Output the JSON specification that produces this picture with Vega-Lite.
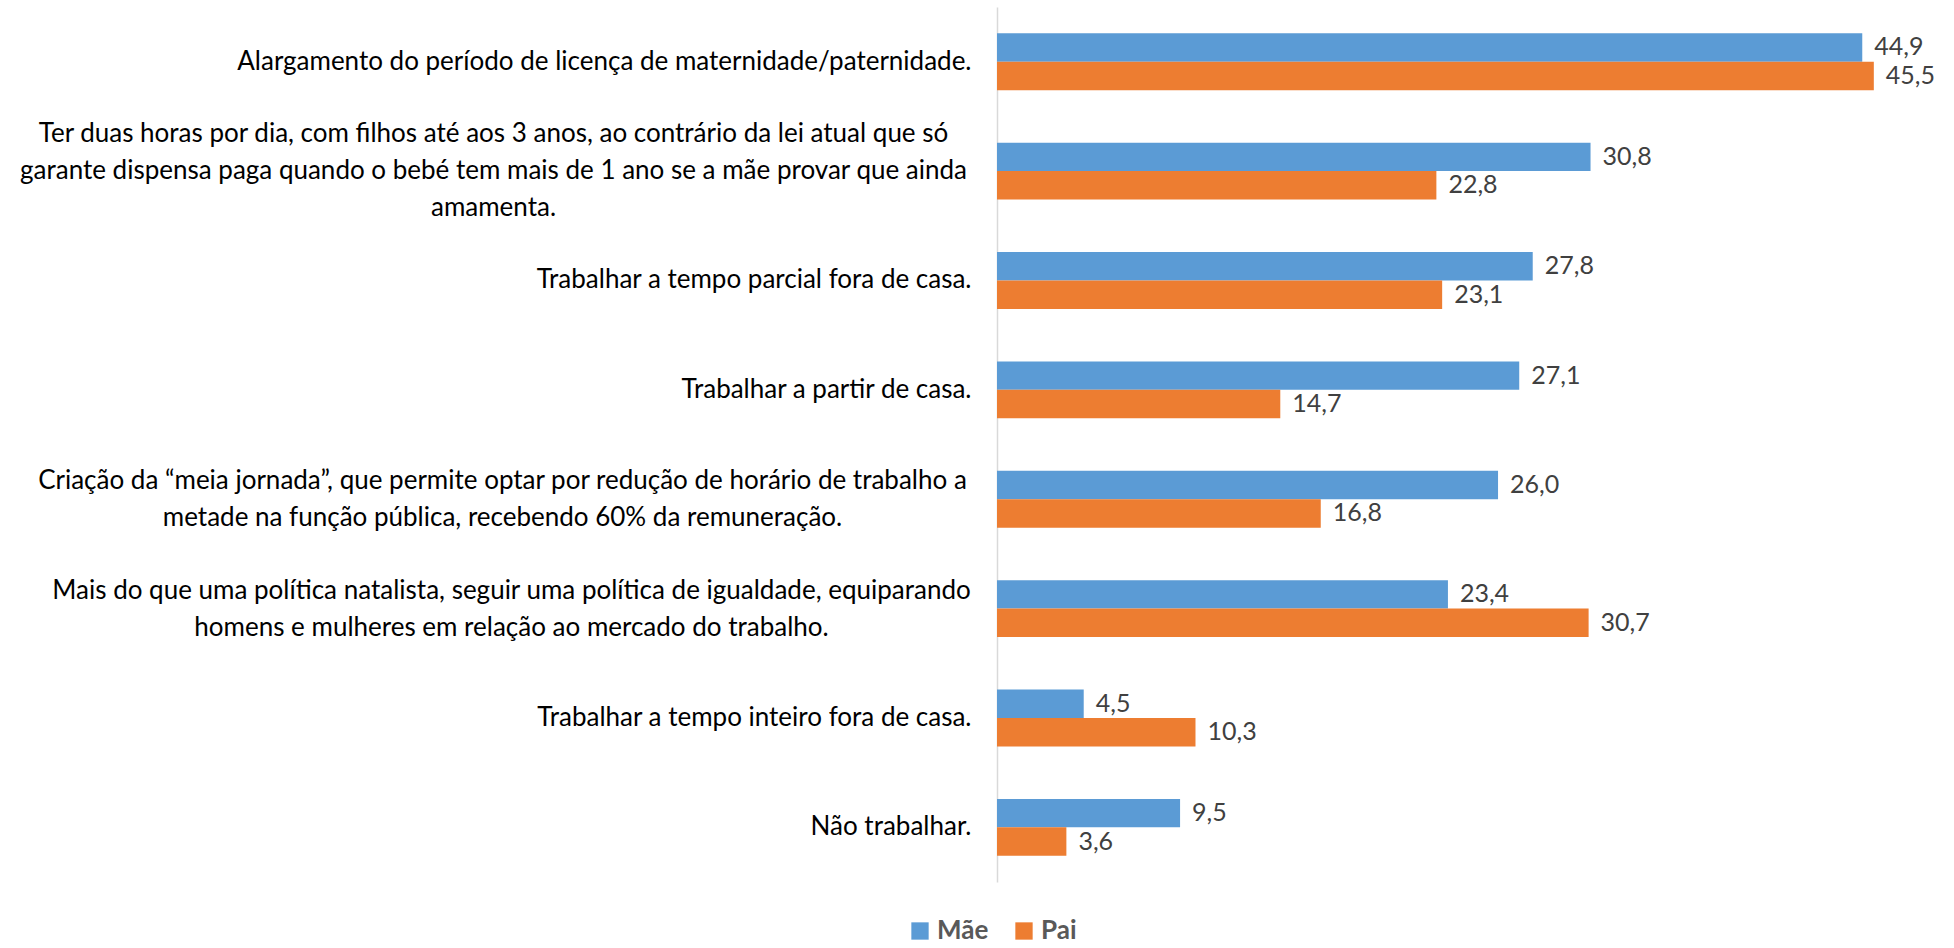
{
  "$schema": "https://vega.github.io/schema/vega-lite/v6.json",
  "autosize": {"type": "none"},
  "padding": {"left": 997, "top": 7, "right": 32, "bottom": 66},
  "width": 925,
  "height": 875,
  "background": "white",
  "data": {
    "values": [
      {"label": "Alargamento do período de licença de maternidade/paternidade.", "serie": "Mãe", "valor": 44.9},
      {"label": "Alargamento do período de licença de maternidade/paternidade.", "serie": "Pai", "valor": 45.5},
      {"label": "Ter duas horas por dia, com filhos até aos 3 anos, ao contrário da lei atual que só\ngarante dispensa paga quando o bebé tem mais de 1 ano se a mãe provar que ainda\namamenta.", "serie": "Mãe", "valor": 30.8},
      {"label": "Ter duas horas por dia, com filhos até aos 3 anos, ao contrário da lei atual que só\ngarante dispensa paga quando o bebé tem mais de 1 ano se a mãe provar que ainda\namamenta.", "serie": "Pai", "valor": 22.8},
      {"label": "Trabalhar a tempo parcial fora de casa.", "serie": "Mãe", "valor": 27.8},
      {"label": "Trabalhar a tempo parcial fora de casa.", "serie": "Pai", "valor": 23.1},
      {"label": "Trabalhar a partir de casa.", "serie": "Mãe", "valor": 27.1},
      {"label": "Trabalhar a partir de casa.", "serie": "Pai", "valor": 14.7},
      {"label": "Criação da “meia jornada”, que permite optar por redução de horário de trabalho a\nmetade na função pública, recebendo 60% da remuneração.", "serie": "Mãe", "valor": 26.0},
      {"label": "Criação da “meia jornada”, que permite optar por redução de horário de trabalho a\nmetade na função pública, recebendo 60% da remuneração.", "serie": "Pai", "valor": 16.8},
      {"label": "Mais do que uma política natalista, seguir uma política de igualdade, equiparando\nhomens e mulheres em relação ao mercado do trabalho.", "serie": "Mãe", "valor": 23.4},
      {"label": "Mais do que uma política natalista, seguir uma política de igualdade, equiparando\nhomens e mulheres em relação ao mercado do trabalho.", "serie": "Pai", "valor": 30.7},
      {"label": "Trabalhar a tempo inteiro fora de casa.", "serie": "Mãe", "valor": 4.5},
      {"label": "Trabalhar a tempo inteiro fora de casa.", "serie": "Pai", "valor": 10.3},
      {"label": "Não trabalhar.", "serie": "Mãe", "valor": 9.5},
      {"label": "Não trabalhar.", "serie": "Pai", "valor": 3.6}
    ]
  },
  "encoding": {
    "y": {
      "field": "label",
      "type": "nominal",
      "sort": null,
      "title": null,
      "scale": {"paddingInner": 0.48, "paddingOuter": 0.24},
      "axis": {
        "labelExpr": "split(datum.label, '\\n')",
        "labelFont": "Lato",
        "labelFontSize": 26,
        "labelColor": "#000000",
        "labelLineHeight": 37,
        "labelLimit": 1000,
        "labelOffset": {
          "condition": [
            {"test": "length(split(datum.value, '\\n')) == 3", "value": -37},
            {"test": "length(split(datum.value, '\\n')) == 2", "value": -18}
          ],
          "value": 0
        },
        "labelAlign": {
          "condition": {"test": "length(split(datum.value, '\\n')) > 1", "value": "center"},
          "value": "right"
        },
        "labelPadding": {
          "condition": [
            {"test": "indexof(datum.value, 'Ter duas') == 0", "value": 504},
            {"test": "indexof(datum.value, 'Criação') == 0", "value": 495},
            {"test": "indexof(datum.value, 'Mais do') == 0", "value": 486}
          ],
          "value": 26
        },
        "ticks": false,
        "tickSize": 0,
        "domainColor": "#D9D9D9",
        "domainWidth": 1.5,
        "grid": false
      }
    },
    "yOffset": {"field": "serie", "type": "nominal", "sort": ["Mãe", "Pai"], "scale": {"paddingInner": 0, "paddingOuter": 0}},
    "x": {
      "field": "valor",
      "type": "quantitative",
      "scale": {"domain": [0, 48], "nice": false},
      "axis": null
    }
  },
  "layer": [
    {
      "mark": {"type": "bar"},
      "encoding": {
        "color": {
          "field": "serie",
          "type": "nominal",
          "sort": ["Mãe", "Pai"],
          "scale": {"domain": ["Mãe", "Pai"], "range": ["#5B9BD5", "#ED7D31"]},
          "legend": {
            "title": null,
            "orient": "none",
            "legendX": -90,
            "legendY": 911,
            "direction": "horizontal",
            "symbolType": "square",
            "symbolSize": 300,
            "symbolStrokeWidth": 0,
            "labelFont": "Lato",
            "labelFontSize": 26,
            "labelFontWeight": "bold",
            "labelColor": "#595959",
            "labelOffset": 4,
            "columnPadding": 22
          }
        }
      }
    },
    {
      "mark": {"type": "text", "align": "left", "baseline": "middle", "dx": 12, "font": "Lato", "fontSize": 25, "color": "#404040"},
      "encoding": {
        "text": {"field": "valor", "type": "quantitative", "format": ".1f"}
      }
    }
  ],
  "config": {
    "view": {"stroke": null},
    "locale": {"number": {"decimal": ",", "thousands": ".", "grouping": [3], "currency": ["", " €"]}}
  }
}
